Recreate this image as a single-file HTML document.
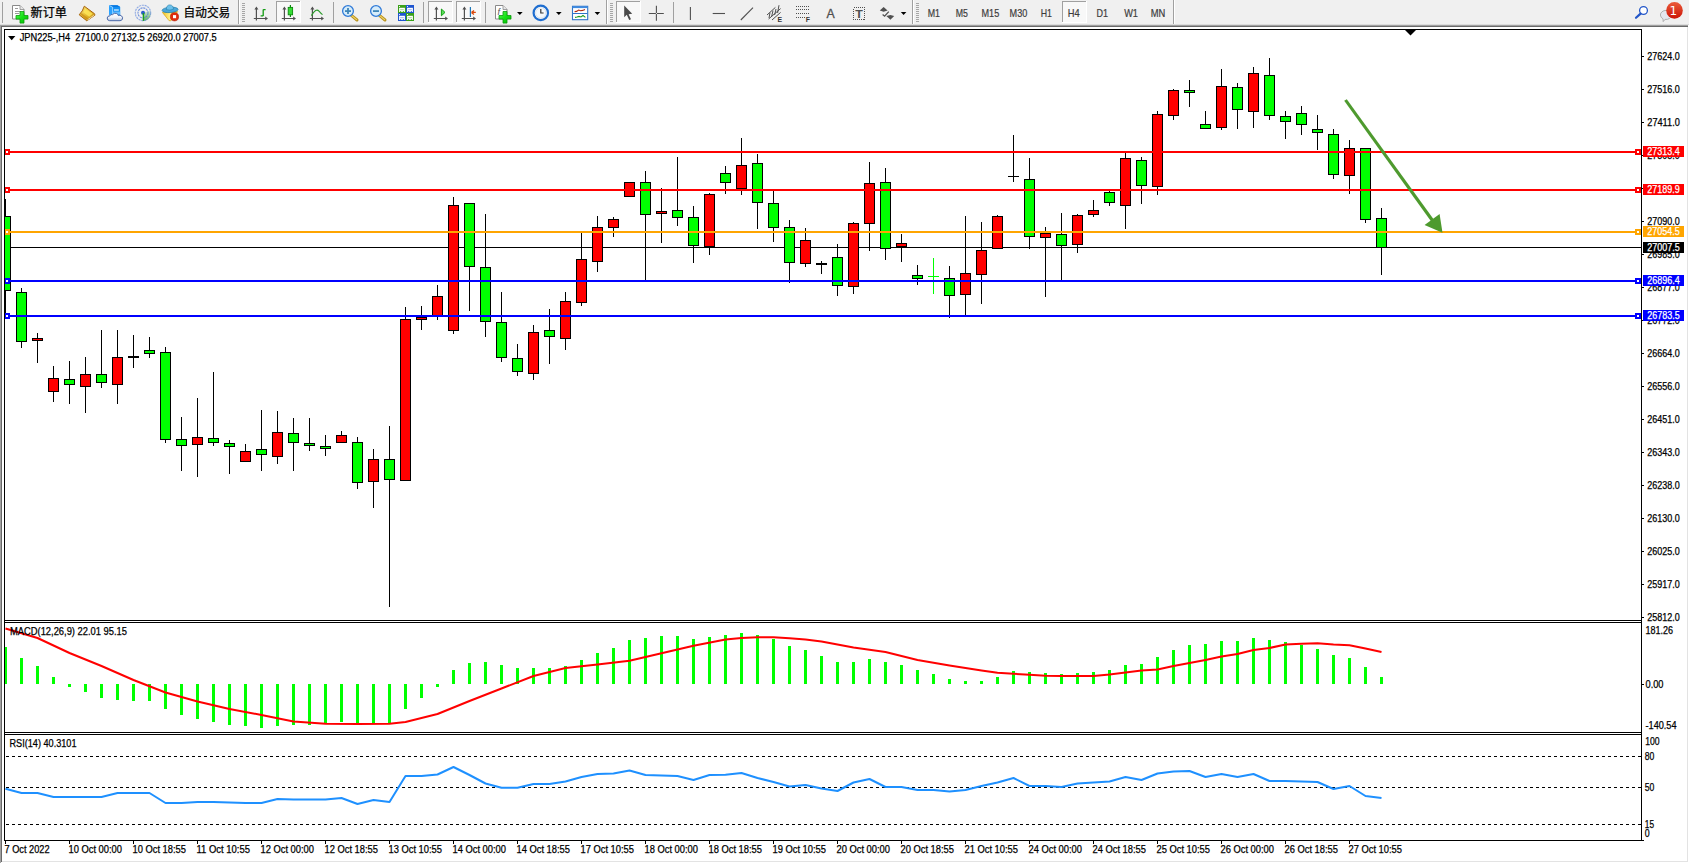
<!DOCTYPE html>
<html lang="zh"><head><meta charset="utf-8"><title>JPN225-,H4</title>
<style>html,body{margin:0;padding:0;background:#fff;overflow:hidden}svg{display:block}text{font-family:"Liberation Sans", sans-serif;white-space:pre}.cj{font-family:"Liberation Sans","Noto Sans CJK SC",sans-serif}</style></head><body>
<svg width="1689" height="863" viewBox="0 0 1689 863">
<rect x="0" y="0" width="1689" height="863" fill="#fff"/>
<defs><linearGradient id="pg" x1="0" y1="0" x2="1" y2="1"><stop offset="0" stop-color="#5cff5c"/><stop offset=".5" stop-color="#14e014"/><stop offset="1" stop-color="#08b808"/></linearGradient><linearGradient id="gg" x1="0" y1="0" x2="1" y2="1"><stop offset="0" stop-color="#f8e48a"/><stop offset=".5" stop-color="#e6bc30"/><stop offset="1" stop-color="#c08a14"/></linearGradient><linearGradient id="hg" x1="0" y1="0" x2="1" y2="0"><stop offset="0" stop-color="#f0c020"/><stop offset=".5" stop-color="#fff08a"/><stop offset="1" stop-color="#f0c020"/></linearGradient><linearGradient id="cg" x1="0" y1="0" x2="0" y2="1"><stop offset="0" stop-color="#ffffff"/><stop offset=".55" stop-color="#f0f3f9"/><stop offset="1" stop-color="#b8c4dc"/></linearGradient><linearGradient id="sg" x1="0" y1="0" x2="0" y2="1"><stop offset="0" stop-color="#cfe6cf"/><stop offset="1" stop-color="#2ca02c"/></linearGradient></defs>
<rect x="0" y="0" width="1689" height="25" fill="#f0f0f0"/>
<rect x="2" y="2" width="1" height="21" fill="#a0a0a0" shape-rendering="crispEdges"/>
<path d="M12.5 5.5 h7.5 l4 4 v9.5 h-11.5 Z" fill="#fff" stroke="#8a8a8a" stroke-width="1"/><path d="M20 5.5 v4 h4" fill="#e8e8e8" stroke="#8a8a8a" stroke-width="0.8"/>
<g stroke="#9a9a9a" stroke-width="1" shape-rendering="crispEdges"><path d="M14.5 8.5 h3 M14.5 11.5 h6 M14.5 13.5 h4"/></g>
<path d="M20 11.5 h4 v4 h4 v3.6 h-4 v4 h-4 v-4 h-4 v-3.6 h4 Z" fill="url(#pg)" stroke="#0c9a0c" stroke-width="0.8"/>
<text class="cj" x="30.6" y="16.6" font-size="12" textLength="36.4" lengthAdjust="spacingAndGlyphs" fill="#000" stroke="#000" stroke-width="0.25">新订单</text>
<path d="M84.3 6.2 L94.6 13.8 L94.9 15.2 L86.8 20.8 L79.2 14.8 Q82.8 11.2 84.3 6.2 Z" fill="url(#gg)" stroke="#a8640a" stroke-width="1"/><path d="M80.2 14.6 L86.9 19.8 L88.4 18.6 L81.6 13 Z" fill="#c98a14" opacity=".7"/><path d="M85.2 8.4 L92.6 13.8 L89.2 16.8 L83.2 12.2 Z" fill="#ffe95a" opacity=".8"/><path d="M87.4 20 L94.3 15.1" stroke="#f6ecc0" stroke-width="0.8"/>
<path d="M109 5.2 L117.4 5.2 L120.2 7 L120.2 16 L112.6 16 L109 14.4 Z" fill="#1590f4"/><path d="M109 5.2 L112.6 7 L112.6 16 L109 14.4 Z" fill="#2aa2ff"/><path d="M109 5.2 L117.4 5.2 L120.2 7 L112.6 7 Z" fill="#0a78e0"/><path d="M109.4 5.6 L112.6 7.2 V15" stroke="#c8e8ff" stroke-width="0.7" fill="none"/><rect x="114" y="9.4" width="4.8" height="1.2" fill="#e4f5ff"/><rect x="112.9" y="11.6" width="7.2" height="3" fill="#62bcff"/><path d="M109.6 20.7 Q107 20.4 107.2 18 Q107.4 15.8 110 15.8 Q110.6 14 112.6 14.6 Q114 12.6 116.4 13.4 Q118 14 118.4 15.6 Q120 14.6 121.4 15.8 Q123 17 122.4 19 Q121.8 20.7 120 20.7 Z" fill="url(#cg)" stroke="#4a68a8" stroke-width="1"/>
<path d="M143 13 L143 20.9 A7.9 7.9 0 0 0 150.5 10.4 Z" fill="url(#sg)" opacity=".75"/><g fill="none" stroke-width="1.1"><circle cx="143" cy="12.9" r="7.7" stroke="#6a8ede" opacity=".7" stroke-dasharray="2.2 0.7"/><circle cx="143" cy="12.9" r="5" stroke="#4a74d8" opacity=".75" stroke-dasharray="2.2 0.7"/></g><circle cx="143" cy="12.7" r="2" fill="#2a5ccc"/><rect x="142.7" y="13" width="1.4" height="7.8" fill="#18a018"/>
<path d="M162.4 12.4 L177.7 11.6 L170.8 20.8 L169 20.6 Z" fill="url(#hg)" stroke="#d8a010" stroke-width="0.7"/><ellipse cx="170.1" cy="9.9" rx="8" ry="2.7" transform="rotate(-4 170.1 9.9)" fill="#4aa6d8" stroke="#1f7caa" stroke-width="0.7"/><path d="M166.3 9.6 Q166.3 5 169.8 4.9 Q173.3 5 173.5 9.2 Q170 10.8 166.3 9.6 Z" fill="#6cc0ea" stroke="#1f7caa" stroke-width="0.6"/><circle cx="174.5" cy="16.8" r="4.1" fill="#e02c0c" stroke="#b41a04" stroke-width="0.6"/><rect x="173" y="15.1" width="3.1" height="3.1" fill="#fff"/>
<text class="cj" x="183.6" y="16.6" font-size="12" textLength="46.6" lengthAdjust="spacingAndGlyphs" fill="#000" stroke="#000" stroke-width="0.25">自动交易</text>
<rect x="238" y="0" width="1" height="25" fill="#a0a0a0" shape-rendering="crispEdges"/><rect x="239" y="0" width="1" height="25" fill="#fff" shape-rendering="crispEdges"/>
<g shape-rendering="crispEdges" fill="#a6a6a6"><rect x="242" y="3" width="3" height="1"/><rect x="242" y="5" width="3" height="1"/><rect x="242" y="7" width="3" height="1"/><rect x="242" y="9" width="3" height="1"/><rect x="242" y="11" width="3" height="1"/><rect x="242" y="13" width="3" height="1"/><rect x="242" y="15" width="3" height="1"/><rect x="242" y="17" width="3" height="1"/><rect x="242" y="19" width="3" height="1"/><rect x="242" y="21" width="3" height="1"/></g>
<g stroke="#505050" stroke-width="1.2" fill="none"><path d="M256.4 8 V20.6 M253.8 18.5 H266.5"/></g><path d="M256.4 6.6 L258.4 9.4 L254.4 9.4 Z M268 18.5 L265.2 16.5 L265.2 20.5 Z" fill="#505050"/>
<path d="M263.2 9.4 v6.6 M263.2 9.6 h2.4 M260.6 15.8 h2.6" stroke="#119a11" stroke-width="1.3" fill="none"/>
<g shape-rendering="crispEdges"><rect x="276" y="1" width="25" height="22" fill="#f8f8f8"/><rect x="276" y="1" width="25" height="1" fill="#a0a0a0"/><rect x="276" y="1" width="1" height="22" fill="#a0a0a0"/><rect x="276" y="22" width="25" height="1" fill="#fff"/><rect x="300" y="1" width="1" height="22" fill="#fff"/></g>
<g stroke="#505050" stroke-width="1.2" fill="none"><path d="M284.4 8 V20.6 M281.8 18.5 H294.5"/></g><path d="M284.4 6.6 L286.4 9.4 L282.4 9.4 Z M296 18.5 L293.2 16.5 L293.2 20.5 Z" fill="#505050"/>
<path d="M290.4 5 v12" stroke="#0c8a0c" stroke-width="1.2"/><rect x="288.2" y="7.4" width="4.4" height="7.4" fill="#35dd35" stroke="#0c8a0c" stroke-width="0.9"/>
<g stroke="#505050" stroke-width="1.2" fill="none"><path d="M312.4 8 V20.6 M309.8 18.5 H322.5"/></g><path d="M312.4 6.6 L314.4 9.4 L310.4 9.4 Z M324 18.5 L321.2 16.5 L321.2 20.5 Z" fill="#505050"/>
<path d="M311.4 15.6 Q316 7.6 319 11.2 T322.6 14" stroke="#2a9a2a" stroke-width="1.2" fill="none"/>
<rect x="333" y="2" width="1" height="21" fill="#a0a0a0" shape-rendering="crispEdges"/>
<path d="M351.4 15.4 L357 20" stroke="#b8921e" stroke-width="3" stroke-linecap="round"/><path d="M351.4 15.4 L356.6 19.6" stroke="#f0d468" stroke-width="1.2" stroke-linecap="round"/><circle cx="348" cy="11" r="5.4" fill="#d6ecfa" stroke="#2f7ad8" stroke-width="1.3"/>
<rect x="345" y="10.2" width="6" height="1.8" fill="#3f86b8"/>
<rect x="347.1" y="8" width="1.8" height="6" fill="#3f86b8"/>
<path d="M379.4 15.4 L385 20" stroke="#b8921e" stroke-width="3" stroke-linecap="round"/><path d="M379.4 15.4 L384.6 19.6" stroke="#f0d468" stroke-width="1.2" stroke-linecap="round"/><circle cx="376" cy="11" r="5.4" fill="#d6ecfa" stroke="#2f7ad8" stroke-width="1.3"/>
<rect x="373" y="10.2" width="6" height="1.8" fill="#3f86b8"/>
<rect x="398" y="5" width="8" height="8" fill="#3aa11a"/><rect x="399.1" y="7.8" width="5.8" height="4.2" fill="#fff"/><rect x="399" y="6" width="1" height="1" fill="#fff" opacity=".9"/><rect x="400.2" y="9.2" width="3.6" height="1" fill="#3aa11a" opacity=".45"/><rect x="400.2" y="11" width="1" height="1" fill="#3aa11a"/><rect x="402.8" y="11" width="1" height="1" fill="#3aa11a"/>
<rect x="406" y="5" width="8" height="8" fill="#1f55d0"/><rect x="407.1" y="7.8" width="5.8" height="4.2" fill="#fff"/><rect x="407" y="6" width="1" height="1" fill="#fff" opacity=".9"/><rect x="408.2" y="9.2" width="3.6" height="1" fill="#1f55d0" opacity=".45"/><rect x="408.2" y="11" width="1" height="1" fill="#1f55d0"/><rect x="410.8" y="11" width="1" height="1" fill="#1f55d0"/>
<rect x="398" y="13" width="8" height="8" fill="#1f55d0"/><rect x="399.1" y="15.8" width="5.8" height="4.2" fill="#fff"/><rect x="399" y="14" width="1" height="1" fill="#fff" opacity=".9"/><rect x="400.2" y="17.2" width="3.6" height="1" fill="#1f55d0" opacity=".45"/><rect x="400.2" y="19" width="1" height="1" fill="#1f55d0"/><rect x="402.8" y="19" width="1" height="1" fill="#1f55d0"/>
<rect x="406" y="13" width="8" height="8" fill="#3aa11a"/><rect x="407.1" y="15.8" width="5.8" height="4.2" fill="#fff"/><rect x="407" y="14" width="1" height="1" fill="#fff" opacity=".9"/><rect x="408.2" y="17.2" width="3.6" height="1" fill="#3aa11a" opacity=".45"/><rect x="408.2" y="19" width="1" height="1" fill="#3aa11a"/><rect x="410.8" y="19" width="1" height="1" fill="#3aa11a"/>
<rect x="423" y="2" width="1" height="21" fill="#a0a0a0" shape-rendering="crispEdges"/>
<g shape-rendering="crispEdges"><rect x="428" y="1" width="25" height="22" fill="#f8f8f8"/><rect x="428" y="1" width="25" height="1" fill="#a0a0a0"/><rect x="428" y="1" width="1" height="22" fill="#a0a0a0"/><rect x="428" y="22" width="25" height="1" fill="#fff"/><rect x="452" y="1" width="1" height="22" fill="#fff"/></g>
<g stroke="#505050" stroke-width="1.2" fill="none"><path d="M436.4 8 V20.6 M433.8 18.5 H446.5"/></g><path d="M436.4 6.6 L438.4 9.4 L434.4 9.4 Z M448 18.5 L445.2 16.5 L445.2 20.5 Z" fill="#505050"/>
<path d="M441.4 9 L445 12.4 L441.4 15.8 Z" fill="#5ae05a" stroke="#16a016" stroke-width="1"/>
<g shape-rendering="crispEdges"><rect x="456" y="1" width="25" height="22" fill="#f8f8f8"/><rect x="456" y="1" width="25" height="1" fill="#a0a0a0"/><rect x="456" y="1" width="1" height="22" fill="#a0a0a0"/><rect x="456" y="22" width="25" height="1" fill="#fff"/><rect x="480" y="1" width="1" height="22" fill="#fff"/></g>
<g stroke="#505050" stroke-width="1.2" fill="none"><path d="M464.4 8 V20.6 M461.8 18.5 H474.5"/></g><path d="M464.4 6.6 L466.4 9.4 L462.4 9.4 Z M476 18.5 L473.2 16.5 L473.2 20.5 Z" fill="#505050"/>
<rect x="469.8" y="7" width="1.2" height="10" fill="#1f78b8"/><path d="M471.6 12.4 L475.8 12.4 M471.4 12.4 L474 10.4 M471.4 12.4 L474 14.4" stroke="#d8480c" stroke-width="1.3" fill="none"/>
<rect x="485" y="2" width="1" height="21" fill="#a0a0a0" shape-rendering="crispEdges"/>
<path d="M495.5 5.5 h7.5 l4 4 v9.5 h-11.5 Z" fill="#fff" stroke="#8a8a8a" stroke-width="1"/><path d="M503 5.5 v4 h4" fill="#e8e8e8" stroke="#8a8a8a" stroke-width="0.8"/>
<text x="497.4" y="15" font-size="9" font-style="italic" fill="#555">f</text>
<path d="M503 11.5 h4 v4 h4 v3.6 h-4 v4 h-4 v-4 h-4 v-3.6 h4 Z" fill="url(#pg)" stroke="#0c9a0c" stroke-width="0.8"/>
<path d="M517 12 L522.6 12 L519.8 15 Z" fill="#000"/>
<circle cx="540.8" cy="12.9" r="7.2" fill="#fff" stroke="#1f6ed0" stroke-width="2.2"/><circle cx="540.8" cy="12.9" r="5.2" fill="#f4f8fc" stroke="#b8c8d8" stroke-width="0.5"/><path d="M540.8 9 V13 H543.6" stroke="#333" stroke-width="1.2" fill="none"/>
<path d="M556 12 L561.6 12 L558.8 15 Z" fill="#000"/>
<rect x="572.5" y="6.3" width="15.2" height="13.4" fill="#fff" stroke="#2f74c8" stroke-width="1.1"/><rect x="572.5" y="6.3" width="15.2" height="1.8" fill="#3f8be0"/><rect x="573" y="13" width="14.4" height="1" fill="#2f74c8"/><path d="M574.6 11.6 l2 -0.2 l2 -1.4 l2 0.8 l2 -0.4 l2.4 -1" stroke="#b02a10" stroke-width="1.1" fill="none"/><path d="M575 17.4 l2 -0.4 l2 -0.6 l2 0.6 l2 -1.6 l2.4 2" stroke="#1e9a1e" stroke-width="1.1" fill="none"/>
<path d="M594.6 12 L600.2 12 L597.4 15 Z" fill="#000"/>
<rect x="606" y="0" width="1" height="25" fill="#a0a0a0" shape-rendering="crispEdges"/><rect x="607" y="0" width="1" height="25" fill="#fff" shape-rendering="crispEdges"/>
<g shape-rendering="crispEdges" fill="#a6a6a6"><rect x="610" y="3" width="3" height="1"/><rect x="610" y="5" width="3" height="1"/><rect x="610" y="7" width="3" height="1"/><rect x="610" y="9" width="3" height="1"/><rect x="610" y="11" width="3" height="1"/><rect x="610" y="13" width="3" height="1"/><rect x="610" y="15" width="3" height="1"/><rect x="610" y="17" width="3" height="1"/><rect x="610" y="19" width="3" height="1"/><rect x="610" y="21" width="3" height="1"/></g>
<g shape-rendering="crispEdges"><rect x="616" y="1" width="25" height="22" fill="#f8f8f8"/><rect x="616" y="1" width="25" height="1" fill="#a0a0a0"/><rect x="616" y="1" width="1" height="22" fill="#a0a0a0"/><rect x="616" y="22" width="25" height="1" fill="#fff"/><rect x="640" y="1" width="1" height="22" fill="#fff"/></g>
<path d="M624.2 5.6 L624.2 17.2 L626.8 14.8 L629.2 20 L631 19.2 L628.6 14.2 L632.2 13.8 Z" fill="#4a4a4a"/>
<path d="M656.4 5.8 V20.8 M648.8 13.5 H663.8" stroke="#505050" stroke-width="1.1"/><rect x="655.9" y="13" width="1" height="1" fill="#f0f0f0"/>
<rect x="673" y="2" width="1" height="21" fill="#a0a0a0" shape-rendering="crispEdges"/>
<path d="M690.4 7 V20" stroke="#505050" stroke-width="1.1"/>
<path d="M712.7 13.5 H725" stroke="#505050" stroke-width="1.1"/>
<path d="M740.8 20 L753 7.7" stroke="#505050" stroke-width="1.1"/>
<g stroke="#505050" stroke-width="1" fill="none"><path d="M767 15 L775.4 7.4 M768.6 19 L780.6 8.6 M772 20 L780.6 12.4"/><path d="M770 12.6 l-1 5.4 M773 10.6 l-1.4 6 M776 9 l-1.4 6 M779 5.2 l-1.4 7.8"/></g>
<text x="777.4" y="22" font-size="6.5" font-weight="bold" fill="#333" textLength="4.6" lengthAdjust="spacingAndGlyphs">E</text>
<g stroke="#505050" stroke-width="1" stroke-dasharray="1 1" shape-rendering="crispEdges"><path d="M796 6.5 H809 M796 9.5 H809 M796 13.5 H809 M796 17.5 H805"/></g>
<text x="805.8" y="22" font-size="6.5" font-weight="bold" fill="#333" textLength="4.2" lengthAdjust="spacingAndGlyphs">F</text>
<text x="826.5" y="18" font-size="12" fill="#505050" stroke="#505050" stroke-width="0.3" textLength="8.2" lengthAdjust="spacingAndGlyphs">A</text>
<rect x="853.5" y="7.5" width="11" height="12" fill="none" stroke="#505050" stroke-width="1" stroke-dasharray="1 1" shape-rendering="crispEdges"/><text x="855.2" y="17.8" font-size="11" font-weight="bold" fill="#505050" textLength="7.6" lengthAdjust="spacingAndGlyphs">T</text>
<path d="M883.6 7 L887.6 10.6 L883.6 11.8 L879.8 10.6 Z" fill="#505050"/><path d="M890.4 19.8 L894.2 16 L890.4 15 L886.4 16 Z" fill="#505050"/><path d="M882.6 14.6 L884.6 16.2 L888.8 11.6" stroke="#505050" stroke-width="1.3" fill="none"/>
<path d="M900.8 12 L906.4 12 L903.5999999999999 15 Z" fill="#000"/>
<rect x="912" y="0" width="1" height="25" fill="#a0a0a0" shape-rendering="crispEdges"/><rect x="913" y="0" width="1" height="25" fill="#fff" shape-rendering="crispEdges"/>
<g shape-rendering="crispEdges" fill="#a6a6a6"><rect x="916" y="3" width="3" height="1"/><rect x="916" y="5" width="3" height="1"/><rect x="916" y="7" width="3" height="1"/><rect x="916" y="9" width="3" height="1"/><rect x="916" y="11" width="3" height="1"/><rect x="916" y="13" width="3" height="1"/><rect x="916" y="15" width="3" height="1"/><rect x="916" y="17" width="3" height="1"/><rect x="916" y="19" width="3" height="1"/><rect x="916" y="21" width="3" height="1"/></g>
<g shape-rendering="crispEdges"><rect x="1062" y="1" width="25" height="22" fill="#f8f8f8"/><rect x="1062" y="1" width="25" height="1" fill="#a0a0a0"/><rect x="1062" y="1" width="1" height="22" fill="#a0a0a0"/><rect x="1062" y="22" width="25" height="1" fill="#fff"/><rect x="1086" y="1" width="1" height="22" fill="#fff"/></g>
<text x="927.7" y="16.6" font-size="10.4" fill="#3c3c3c" stroke="#3c3c3c" stroke-width="0.2" textLength="12.3" lengthAdjust="spacingAndGlyphs">M1</text>
<text x="955.8" y="16.6" font-size="10.4" fill="#3c3c3c" stroke="#3c3c3c" stroke-width="0.2" textLength="12.2" lengthAdjust="spacingAndGlyphs">M5</text>
<text x="981.5" y="16.6" font-size="10.4" fill="#3c3c3c" stroke="#3c3c3c" stroke-width="0.2" textLength="17.7" lengthAdjust="spacingAndGlyphs">M15</text>
<text x="1009.6" y="16.6" font-size="10.4" fill="#3c3c3c" stroke="#3c3c3c" stroke-width="0.2" textLength="17.7" lengthAdjust="spacingAndGlyphs">M30</text>
<text x="1040.8" y="16.6" font-size="10.4" fill="#3c3c3c" stroke="#3c3c3c" stroke-width="0.2" textLength="11.2" lengthAdjust="spacingAndGlyphs">H1</text>
<text x="1067.7" y="16.6" font-size="10.4" fill="#3c3c3c" stroke="#3c3c3c" stroke-width="0.2" textLength="11.9" lengthAdjust="spacingAndGlyphs">H4</text>
<text x="1096.5" y="16.6" font-size="10.4" fill="#3c3c3c" stroke="#3c3c3c" stroke-width="0.2" textLength="11.5" lengthAdjust="spacingAndGlyphs">D1</text>
<text x="1124.2" y="16.6" font-size="10.4" fill="#3c3c3c" stroke="#3c3c3c" stroke-width="0.2" textLength="13.8" lengthAdjust="spacingAndGlyphs">W1</text>
<text x="1150.8" y="16.6" font-size="10.4" fill="#3c3c3c" stroke="#3c3c3c" stroke-width="0.2" textLength="14.6" lengthAdjust="spacingAndGlyphs">MN</text>
<rect x="1173" y="0" width="1" height="25" fill="#a0a0a0" shape-rendering="crispEdges"/><rect x="1174" y="0" width="1" height="25" fill="#fff" shape-rendering="crispEdges"/>
<circle cx="1643.5" cy="10.5" r="3.9" fill="#fff" stroke="#2356c8" stroke-width="1.3"/><path d="M1640.6 13.6 L1636 17.8" stroke="#2356c8" stroke-width="2.2" stroke-linecap="round"/>
<path d="M1660.4 15 a5.6 4.6 0 0 1 11.2 0 a5.6 4.6 0 0 1 -6.6 4.4 l-1.8 2.2 l-0.2 -2.8 a5 4.6 0 0 1 -2.6 -3.8 Z" fill="#e4e6ee" stroke="#a8a8a8" stroke-width="0.9"/>
<defs><linearGradient id="bg" x1="0" y1="0" x2="0" y2="1"><stop offset="0" stop-color="#ea5a3a"/><stop offset="1" stop-color="#cc1406"/></linearGradient></defs>
<circle cx="1674.5" cy="10.4" r="8.3" fill="url(#bg)"/>
<text x="1673.4" y="14.9" font-size="12" fill="#fff" text-anchor="middle" style="font-family:'DejaVu Sans',sans-serif">1</text>
<g shape-rendering="crispEdges">
<rect x="0" y="24" width="1689" height="1" fill="#dcdcdc"/>
<rect x="0" y="25" width="1689" height="1" fill="#a0a0a0"/>
<rect x="0" y="26" width="1688" height="1" fill="#696969"/>
<rect x="0" y="25" width="1" height="838" fill="#a0a0a0"/>
<rect x="1" y="26" width="1" height="836" fill="#696969"/>
<rect x="1687" y="27" width="1" height="835" fill="#e3e3e3"/>
<rect x="2" y="861" width="1686" height="1" fill="#e3e3e3"/>
<rect x="1688" y="25" width="1" height="838" fill="#fff"/>
<rect x="1" y="862" width="1688" height="1" fill="#fff"/>
</g>
<g shape-rendering="crispEdges">
<rect x="5" y="247" width="1636" height="1" fill="#000"/>
<clipPath id="cc"><rect x="5" y="30" width="1636" height="590"/></clipPath><g clip-path="url(#cc)">
<rect x="5" y="199" width="1" height="114" fill="#000"/>
<rect x="0.5" y="216.5" width="10" height="74" fill="#00ff00" stroke="#000" stroke-width="1"/>
<rect x="21" y="288" width="1" height="60" fill="#000"/>
<rect x="16.5" y="292.5" width="10" height="49" fill="#00ff00" stroke="#000" stroke-width="1"/>
<rect x="37" y="333" width="1" height="30" fill="#000"/>
<rect x="32.5" y="338.5" width="10" height="2" fill="#ff0000" stroke="#000" stroke-width="1"/>
<rect x="53" y="366" width="1" height="35.75" fill="#000"/>
<rect x="48.5" y="378.5" width="10" height="13" fill="#ff0000" stroke="#000" stroke-width="1"/>
<rect x="69" y="361" width="1" height="42.75" fill="#000"/>
<rect x="64.5" y="379.5" width="10" height="5" fill="#00ff00" stroke="#000" stroke-width="1"/>
<rect x="85" y="357" width="1" height="55.75" fill="#000"/>
<rect x="80.5" y="374.5" width="10" height="12" fill="#ff0000" stroke="#000" stroke-width="1"/>
<rect x="101" y="330" width="1" height="57.5" fill="#000"/>
<rect x="96.5" y="374.5" width="10" height="8" fill="#00ff00" stroke="#000" stroke-width="1"/>
<rect x="117" y="330" width="1" height="73.75" fill="#000"/>
<rect x="112.5" y="357.5" width="10" height="27" fill="#ff0000" stroke="#000" stroke-width="1"/>
<rect x="133" y="335" width="1" height="32.5" fill="#000"/>
<rect x="128" y="356" width="11" height="2" fill="#000"/>
<rect x="149" y="337" width="1" height="20.75" fill="#000"/>
<rect x="144.5" y="350.5" width="10" height="3" fill="#00ff00" stroke="#000" stroke-width="1"/>
<rect x="165" y="347" width="1" height="95.75" fill="#000"/>
<rect x="160.5" y="352.5" width="10" height="87" fill="#00ff00" stroke="#000" stroke-width="1"/>
<rect x="181" y="417" width="1" height="53.75" fill="#000"/>
<rect x="176.5" y="439.5" width="10" height="6" fill="#00ff00" stroke="#000" stroke-width="1"/>
<rect x="197" y="398" width="1" height="78.75" fill="#000"/>
<rect x="192.5" y="437.5" width="10" height="7" fill="#ff0000" stroke="#000" stroke-width="1"/>
<rect x="213" y="372" width="1" height="74" fill="#000"/>
<rect x="208.5" y="438.5" width="10" height="4" fill="#00ff00" stroke="#000" stroke-width="1"/>
<rect x="229" y="440" width="1" height="33.75" fill="#000"/>
<rect x="224.5" y="443.5" width="10" height="3" fill="#00ff00" stroke="#000" stroke-width="1"/>
<rect x="245" y="444" width="1" height="17.5" fill="#000"/>
<rect x="240.5" y="451.5" width="10" height="10" fill="#ff0000" stroke="#000" stroke-width="1"/>
<rect x="261" y="410" width="1" height="60.75" fill="#000"/>
<rect x="256.5" y="449.5" width="10" height="5" fill="#00ff00" stroke="#000" stroke-width="1"/>
<rect x="277" y="411" width="1" height="52.75" fill="#000"/>
<rect x="272.5" y="432.5" width="10" height="24" fill="#ff0000" stroke="#000" stroke-width="1"/>
<rect x="293" y="418" width="1" height="52.75" fill="#000"/>
<rect x="288.5" y="433.5" width="10" height="9" fill="#00ff00" stroke="#000" stroke-width="1"/>
<rect x="309" y="418" width="1" height="32.75" fill="#000"/>
<rect x="304.5" y="443.5" width="10" height="2" fill="#00ff00" stroke="#000" stroke-width="1"/>
<rect x="325" y="435" width="1" height="20.75" fill="#000"/>
<rect x="320.5" y="446.5" width="10" height="2" fill="#00ff00" stroke="#000" stroke-width="1"/>
<rect x="341" y="431" width="1" height="11.5" fill="#000"/>
<rect x="336.5" y="435.5" width="10" height="7" fill="#ff0000" stroke="#000" stroke-width="1"/>
<rect x="357" y="437" width="1" height="51.75" fill="#000"/>
<rect x="352.5" y="442.5" width="10" height="40" fill="#00ff00" stroke="#000" stroke-width="1"/>
<rect x="373" y="449" width="1" height="58.75" fill="#000"/>
<rect x="368.5" y="459.5" width="10" height="22" fill="#ff0000" stroke="#000" stroke-width="1"/>
<rect x="389" y="426" width="1" height="180.5" fill="#000"/>
<rect x="384.5" y="459.5" width="10" height="20" fill="#00ff00" stroke="#000" stroke-width="1"/>
<rect x="405" y="307" width="1" height="173.5" fill="#000"/>
<rect x="400.5" y="319.5" width="10" height="161" fill="#ff0000" stroke="#000" stroke-width="1"/>
<rect x="421" y="306" width="1" height="24" fill="#000"/>
<rect x="416.5" y="317.5" width="10" height="2" fill="#ff0000" stroke="#000" stroke-width="1"/>
<rect x="437" y="285" width="1" height="35" fill="#000"/>
<rect x="432.5" y="296.5" width="10" height="19" fill="#ff0000" stroke="#000" stroke-width="1"/>
<rect x="453" y="197" width="1" height="137" fill="#000"/>
<rect x="448.5" y="205.5" width="10" height="125" fill="#ff0000" stroke="#000" stroke-width="1"/>
<rect x="469" y="203.5" width="1" height="107.5" fill="#000"/>
<rect x="464.5" y="203.5" width="10" height="63" fill="#00ff00" stroke="#000" stroke-width="1"/>
<rect x="485" y="214" width="1" height="123" fill="#000"/>
<rect x="480.5" y="267.5" width="10" height="54" fill="#00ff00" stroke="#000" stroke-width="1"/>
<rect x="501" y="292" width="1" height="69.75" fill="#000"/>
<rect x="496.5" y="322.5" width="10" height="35" fill="#00ff00" stroke="#000" stroke-width="1"/>
<rect x="517" y="344" width="1" height="31.75" fill="#000"/>
<rect x="512.5" y="358.5" width="10" height="13" fill="#00ff00" stroke="#000" stroke-width="1"/>
<rect x="533" y="325" width="1" height="55" fill="#000"/>
<rect x="528.5" y="332.5" width="10" height="41" fill="#ff0000" stroke="#000" stroke-width="1"/>
<rect x="549" y="309" width="1" height="54.75" fill="#000"/>
<rect x="544.5" y="330.5" width="10" height="6" fill="#00ff00" stroke="#000" stroke-width="1"/>
<rect x="565" y="292" width="1" height="57.75" fill="#000"/>
<rect x="560.5" y="301.5" width="10" height="37" fill="#ff0000" stroke="#000" stroke-width="1"/>
<rect x="581" y="233" width="1" height="73" fill="#000"/>
<rect x="576.5" y="259.5" width="10" height="43" fill="#ff0000" stroke="#000" stroke-width="1"/>
<rect x="597" y="216" width="1" height="56" fill="#000"/>
<rect x="592.5" y="227.5" width="10" height="34" fill="#ff0000" stroke="#000" stroke-width="1"/>
<rect x="613" y="217" width="1" height="20" fill="#000"/>
<rect x="608.5" y="219.5" width="10" height="8" fill="#ff0000" stroke="#000" stroke-width="1"/>
<rect x="629" y="182.5" width="1" height="14" fill="#000"/>
<rect x="624.5" y="182.5" width="10" height="14" fill="#ff0000" stroke="#000" stroke-width="1"/>
<rect x="645" y="171" width="1" height="109" fill="#000"/>
<rect x="640.5" y="182.5" width="10" height="32" fill="#00ff00" stroke="#000" stroke-width="1"/>
<rect x="661" y="188" width="1" height="55" fill="#000"/>
<rect x="656.5" y="211.5" width="10" height="2" fill="#ff0000" stroke="#000" stroke-width="1"/>
<rect x="677" y="157" width="1" height="68.75" fill="#000"/>
<rect x="672.5" y="210.5" width="10" height="7" fill="#00ff00" stroke="#000" stroke-width="1"/>
<rect x="693" y="206" width="1" height="57" fill="#000"/>
<rect x="688.5" y="217.5" width="10" height="28" fill="#00ff00" stroke="#000" stroke-width="1"/>
<rect x="709" y="193" width="1" height="62" fill="#000"/>
<rect x="704.5" y="194.5" width="10" height="52" fill="#ff0000" stroke="#000" stroke-width="1"/>
<rect x="725" y="166" width="1" height="28" fill="#000"/>
<rect x="720.5" y="173.5" width="10" height="9" fill="#00ff00" stroke="#000" stroke-width="1"/>
<rect x="741" y="138" width="1" height="57" fill="#000"/>
<rect x="736.5" y="165.5" width="10" height="23" fill="#ff0000" stroke="#000" stroke-width="1"/>
<rect x="757" y="154" width="1" height="75" fill="#000"/>
<rect x="752.5" y="163.5" width="10" height="39" fill="#00ff00" stroke="#000" stroke-width="1"/>
<rect x="773" y="191" width="1" height="51" fill="#000"/>
<rect x="768.5" y="203.5" width="10" height="24" fill="#00ff00" stroke="#000" stroke-width="1"/>
<rect x="789" y="220" width="1" height="63" fill="#000"/>
<rect x="784.5" y="227.5" width="10" height="35" fill="#00ff00" stroke="#000" stroke-width="1"/>
<rect x="805" y="228" width="1" height="39" fill="#000"/>
<rect x="800.5" y="240.5" width="10" height="23" fill="#ff0000" stroke="#000" stroke-width="1"/>
<rect x="821" y="261" width="1" height="12.75" fill="#000"/>
<rect x="816" y="263" width="11" height="2" fill="#000"/>
<rect x="837" y="244" width="1" height="52" fill="#000"/>
<rect x="832.5" y="257.5" width="10" height="28" fill="#00ff00" stroke="#000" stroke-width="1"/>
<rect x="853" y="222" width="1" height="72" fill="#000"/>
<rect x="848.5" y="223.5" width="10" height="63" fill="#ff0000" stroke="#000" stroke-width="1"/>
<rect x="869" y="162" width="1" height="88.75" fill="#000"/>
<rect x="864.5" y="183.5" width="10" height="40" fill="#ff0000" stroke="#000" stroke-width="1"/>
<rect x="885" y="168" width="1" height="92" fill="#000"/>
<rect x="880.5" y="182.5" width="10" height="66" fill="#00ff00" stroke="#000" stroke-width="1"/>
<rect x="901" y="234" width="1" height="28" fill="#000"/>
<rect x="896.5" y="243.5" width="10" height="3" fill="#ff0000" stroke="#000" stroke-width="1"/>
<rect x="917" y="265" width="1" height="20" fill="#000"/>
<rect x="912.5" y="275.5" width="10" height="3" fill="#00ff00" stroke="#000" stroke-width="1"/>
<rect x="933" y="258" width="1" height="36" fill="#00ff00"/>
<rect x="928" y="276" width="11" height="1" fill="#00ff00"/>
<rect x="949" y="266" width="1" height="52" fill="#000"/>
<rect x="944.5" y="278.5" width="10" height="17" fill="#00ff00" stroke="#000" stroke-width="1"/>
<rect x="965" y="216" width="1" height="99" fill="#000"/>
<rect x="960.5" y="273.5" width="10" height="21" fill="#ff0000" stroke="#000" stroke-width="1"/>
<rect x="981" y="222" width="1" height="82" fill="#000"/>
<rect x="976.5" y="250.5" width="10" height="24" fill="#ff0000" stroke="#000" stroke-width="1"/>
<rect x="997" y="215" width="1" height="33.5" fill="#000"/>
<rect x="992.5" y="216.5" width="10" height="32" fill="#ff0000" stroke="#000" stroke-width="1"/>
<rect x="1013" y="135" width="1" height="46.75" fill="#000"/>
<rect x="1008" y="176" width="11" height="1" fill="#000"/>
<rect x="1029" y="158" width="1" height="91" fill="#000"/>
<rect x="1024.5" y="179.5" width="10" height="57" fill="#00ff00" stroke="#000" stroke-width="1"/>
<rect x="1045" y="227" width="1" height="70" fill="#000"/>
<rect x="1040.5" y="233.5" width="10" height="4" fill="#ff0000" stroke="#000" stroke-width="1"/>
<rect x="1061" y="213" width="1" height="67" fill="#000"/>
<rect x="1056.5" y="234.5" width="10" height="11" fill="#00ff00" stroke="#000" stroke-width="1"/>
<rect x="1077" y="213.5" width="1" height="39.5" fill="#000"/>
<rect x="1072.5" y="215.5" width="10" height="29" fill="#ff0000" stroke="#000" stroke-width="1"/>
<rect x="1093" y="200" width="1" height="16.75" fill="#000"/>
<rect x="1088.5" y="210.5" width="10" height="4" fill="#ff0000" stroke="#000" stroke-width="1"/>
<rect x="1109" y="191" width="1" height="14.75" fill="#000"/>
<rect x="1104.5" y="192.5" width="10" height="10" fill="#00ff00" stroke="#000" stroke-width="1"/>
<rect x="1125" y="153" width="1" height="75.75" fill="#000"/>
<rect x="1120.5" y="158.5" width="10" height="47" fill="#ff0000" stroke="#000" stroke-width="1"/>
<rect x="1141" y="157" width="1" height="46.75" fill="#000"/>
<rect x="1136.5" y="160.5" width="10" height="25" fill="#00ff00" stroke="#000" stroke-width="1"/>
<rect x="1157" y="111" width="1" height="83.75" fill="#000"/>
<rect x="1152.5" y="114.5" width="10" height="72" fill="#ff0000" stroke="#000" stroke-width="1"/>
<rect x="1173" y="89" width="1" height="31" fill="#000"/>
<rect x="1168.5" y="90.5" width="10" height="25" fill="#ff0000" stroke="#000" stroke-width="1"/>
<rect x="1189" y="80" width="1" height="26.75" fill="#000"/>
<rect x="1184.5" y="90.5" width="10" height="2" fill="#00ff00" stroke="#000" stroke-width="1"/>
<rect x="1205" y="111" width="1" height="17.5" fill="#000"/>
<rect x="1200.5" y="124.5" width="10" height="4" fill="#00ff00" stroke="#000" stroke-width="1"/>
<rect x="1221" y="69" width="1" height="61" fill="#000"/>
<rect x="1216.5" y="86.5" width="10" height="41" fill="#ff0000" stroke="#000" stroke-width="1"/>
<rect x="1237" y="83" width="1" height="45.75" fill="#000"/>
<rect x="1232.5" y="87.5" width="10" height="22" fill="#00ff00" stroke="#000" stroke-width="1"/>
<rect x="1253" y="67" width="1" height="60.75" fill="#000"/>
<rect x="1248.5" y="73.5" width="10" height="38" fill="#ff0000" stroke="#000" stroke-width="1"/>
<rect x="1269" y="58" width="1" height="62" fill="#000"/>
<rect x="1264.5" y="75.5" width="10" height="40" fill="#00ff00" stroke="#000" stroke-width="1"/>
<rect x="1285" y="111" width="1" height="27.75" fill="#000"/>
<rect x="1280.5" y="116.5" width="10" height="5" fill="#00ff00" stroke="#000" stroke-width="1"/>
<rect x="1301" y="106" width="1" height="28.75" fill="#000"/>
<rect x="1296.5" y="113.5" width="10" height="11" fill="#00ff00" stroke="#000" stroke-width="1"/>
<rect x="1317" y="115" width="1" height="34.75" fill="#000"/>
<rect x="1312.5" y="129.5" width="10" height="3" fill="#00ff00" stroke="#000" stroke-width="1"/>
<rect x="1333" y="129" width="1" height="50" fill="#000"/>
<rect x="1328.5" y="134.5" width="10" height="40" fill="#00ff00" stroke="#000" stroke-width="1"/>
<rect x="1349" y="140" width="1" height="54" fill="#000"/>
<rect x="1344.5" y="148.5" width="10" height="27" fill="#ff0000" stroke="#000" stroke-width="1"/>
<rect x="1365" y="148.5" width="1" height="74.25" fill="#000"/>
<rect x="1360.5" y="148.5" width="10" height="71" fill="#00ff00" stroke="#000" stroke-width="1"/>
<rect x="1381" y="208" width="1" height="67" fill="#000"/>
<rect x="1376.5" y="218.5" width="10" height="29" fill="#00ff00" stroke="#000" stroke-width="1"/>
</g>
<rect x="4" y="151" width="1638" height="2" fill="#ff0000"/>
<rect x="4" y="149" width="6" height="6" fill="#ff0000"/>
<rect x="6" y="151" width="2" height="2" fill="#fff"/>
<rect x="1635" y="149" width="6" height="6" fill="#ff0000"/>
<rect x="1637" y="151" width="2" height="2" fill="#fff"/>
<rect x="4" y="189" width="1638" height="2" fill="#ff0000"/>
<rect x="4" y="187" width="6" height="6" fill="#ff0000"/>
<rect x="6" y="189" width="2" height="2" fill="#fff"/>
<rect x="1635" y="187" width="6" height="6" fill="#ff0000"/>
<rect x="1637" y="189" width="2" height="2" fill="#fff"/>
<rect x="4" y="231" width="1638" height="2" fill="#ffa500"/>
<rect x="4" y="229" width="6" height="6" fill="#ffa500"/>
<rect x="6" y="231" width="2" height="2" fill="#fff"/>
<rect x="1635" y="229" width="6" height="6" fill="#ffa500"/>
<rect x="1637" y="231" width="2" height="2" fill="#fff"/>
<rect x="4" y="280" width="1638" height="2" fill="#0000ff"/>
<rect x="4" y="278" width="6" height="6" fill="#0000ff"/>
<rect x="6" y="280" width="2" height="2" fill="#fff"/>
<rect x="1635" y="278" width="6" height="6" fill="#0000ff"/>
<rect x="1637" y="280" width="2" height="2" fill="#fff"/>
<rect x="4" y="315" width="1638" height="2" fill="#0000ff"/>
<rect x="4" y="313" width="6" height="6" fill="#0000ff"/>
<rect x="6" y="315" width="2" height="2" fill="#fff"/>
<rect x="1635" y="313" width="6" height="6" fill="#0000ff"/>
<rect x="1637" y="315" width="2" height="2" fill="#fff"/>
</g>
<g fill="#4e9a2e" stroke="none">
<path d="M1344.2 100.8 L1346.8 99.2 L1433.6 219.3 L1431 221.2 Z"/>
<path d="M1442.5 232.8 L1424.6 225.0 L1439.6 214.0 Z"/>
</g>
<g shape-rendering="crispEdges" fill="#000">
<rect x="4" y="29" width="1638" height="1"/>
<rect x="4" y="29" width="1" height="812"/>
<rect x="1641" y="29" width="1" height="812"/>
<rect x="4" y="840" width="1640" height="1"/>
<rect x="4" y="620" width="1638" height="1"/>
<rect x="4" y="622" width="1638" height="1"/>
<rect x="4" y="732" width="1638" height="1"/>
<rect x="4" y="734" width="1638" height="1"/>
<rect x="5" y="621" width="1636" height="1" fill="#fff"/>
<rect x="5" y="733" width="1636" height="1" fill="#fff"/>
</g>
<path d="M1405 30 L1416 30 L1410.5 35.5 Z" fill="#000"/>
<path d="M8 36 L15.4 36 L11.7 40.2 Z" fill="#000"/>
<g shape-rendering="crispEdges" fill="#000">
<rect x="1642" y="56" width="2" height="1"/>
<rect x="1642" y="89" width="2" height="1"/>
<rect x="1642" y="122" width="2" height="1"/>
<rect x="1642" y="155" width="2" height="1"/>
<rect x="1642" y="188" width="2" height="1"/>
<rect x="1642" y="221" width="2" height="1"/>
<rect x="1642" y="254" width="2" height="1"/>
<rect x="1642" y="287" width="2" height="1"/>
<rect x="1642" y="320" width="2" height="1"/>
<rect x="1642" y="353" width="2" height="1"/>
<rect x="1642" y="386" width="2" height="1"/>
<rect x="1642" y="419" width="2" height="1"/>
<rect x="1642" y="452" width="2" height="1"/>
<rect x="1642" y="485" width="2" height="1"/>
<rect x="1642" y="518" width="2" height="1"/>
<rect x="1642" y="551" width="2" height="1"/>
<rect x="1642" y="584" width="2" height="1"/>
<rect x="1642" y="617" width="2" height="1"/>
<rect x="1642" y="684" width="2" height="1"/>
</g>
<text x="1647.3" y="60" font-size="10" fill="#000" stroke="#000" stroke-width="0.25" textLength="32.5" lengthAdjust="spacingAndGlyphs">27624.0</text>
<text x="1647.3" y="93" font-size="10" fill="#000" stroke="#000" stroke-width="0.25" textLength="32.5" lengthAdjust="spacingAndGlyphs">27516.0</text>
<text x="1647.3" y="126" font-size="10" fill="#000" stroke="#000" stroke-width="0.25" textLength="32.5" lengthAdjust="spacingAndGlyphs">27411.0</text>
<text x="1647.3" y="159" font-size="10" fill="#000" stroke="#000" stroke-width="0.25" textLength="32.5" lengthAdjust="spacingAndGlyphs">27305.0</text>
<text x="1647.3" y="225" font-size="10" fill="#000" stroke="#000" stroke-width="0.25" textLength="32.5" lengthAdjust="spacingAndGlyphs">27090.0</text>
<text x="1647.3" y="258" font-size="10" fill="#000" stroke="#000" stroke-width="0.25" textLength="32.5" lengthAdjust="spacingAndGlyphs">26985.0</text>
<text x="1647.3" y="291" font-size="10" fill="#000" stroke="#000" stroke-width="0.25" textLength="32.5" lengthAdjust="spacingAndGlyphs">26877.0</text>
<text x="1647.3" y="324" font-size="10" fill="#000" stroke="#000" stroke-width="0.25" textLength="32.5" lengthAdjust="spacingAndGlyphs">26772.0</text>
<text x="1647.3" y="357" font-size="10" fill="#000" stroke="#000" stroke-width="0.25" textLength="32.5" lengthAdjust="spacingAndGlyphs">26664.0</text>
<text x="1647.3" y="390" font-size="10" fill="#000" stroke="#000" stroke-width="0.25" textLength="32.5" lengthAdjust="spacingAndGlyphs">26556.0</text>
<text x="1647.3" y="423" font-size="10" fill="#000" stroke="#000" stroke-width="0.25" textLength="32.5" lengthAdjust="spacingAndGlyphs">26451.0</text>
<text x="1647.3" y="456" font-size="10" fill="#000" stroke="#000" stroke-width="0.25" textLength="32.5" lengthAdjust="spacingAndGlyphs">26343.0</text>
<text x="1647.3" y="489" font-size="10" fill="#000" stroke="#000" stroke-width="0.25" textLength="32.5" lengthAdjust="spacingAndGlyphs">26238.0</text>
<text x="1647.3" y="522" font-size="10" fill="#000" stroke="#000" stroke-width="0.25" textLength="32.5" lengthAdjust="spacingAndGlyphs">26130.0</text>
<text x="1647.3" y="555" font-size="10" fill="#000" stroke="#000" stroke-width="0.25" textLength="32.5" lengthAdjust="spacingAndGlyphs">26025.0</text>
<text x="1647.3" y="588" font-size="10" fill="#000" stroke="#000" stroke-width="0.25" textLength="32.5" lengthAdjust="spacingAndGlyphs">25917.0</text>
<text x="1647.3" y="621" font-size="10" fill="#000" stroke="#000" stroke-width="0.25" textLength="32.5" lengthAdjust="spacingAndGlyphs">25812.0</text>
<g shape-rendering="crispEdges">
<rect x="1643" y="146" width="41" height="11" fill="#ff0000"/>
<rect x="1643" y="184" width="41" height="11" fill="#ff0000"/>
<rect x="1643" y="226" width="41" height="11" fill="#ffa500"/>
<rect x="1643" y="275" width="41" height="11" fill="#0000ff"/>
<rect x="1643" y="310" width="41" height="11" fill="#0000ff"/>
<rect x="1643" y="242" width="41" height="11" fill="#000"/>
</g>
<text x="1647.3" y="155" font-size="10" fill="#fff" stroke="#fff" stroke-width="0.25" textLength="32.5" lengthAdjust="spacingAndGlyphs">27313.4</text>
<text x="1647.3" y="193" font-size="10" fill="#fff" stroke="#fff" stroke-width="0.25" textLength="32.5" lengthAdjust="spacingAndGlyphs">27189.9</text>
<text x="1647.3" y="235" font-size="10" fill="#fff" stroke="#fff" stroke-width="0.25" textLength="32.5" lengthAdjust="spacingAndGlyphs">27054.5</text>
<text x="1647.3" y="284" font-size="10" fill="#fff" stroke="#fff" stroke-width="0.25" textLength="32.5" lengthAdjust="spacingAndGlyphs">26896.4</text>
<text x="1647.3" y="319" font-size="10" fill="#fff" stroke="#fff" stroke-width="0.25" textLength="32.5" lengthAdjust="spacingAndGlyphs">26783.5</text>
<text x="1647.3" y="251" font-size="10" fill="#fff" stroke="#fff" stroke-width="0.25" textLength="32.5" lengthAdjust="spacingAndGlyphs">27007.5</text>
<text x="19.7" y="41" font-size="10" fill="#000" stroke="#000" stroke-width="0.25" textLength="197" lengthAdjust="spacingAndGlyphs">JPN225-,H4  27100.0 27132.5 26920.0 27007.5</text>
<g shape-rendering="crispEdges" fill="#00ff00">
<rect x="5" y="647" width="2" height="37"/>
<rect x="20" y="658" width="3" height="26"/>
<rect x="36" y="666" width="3" height="18"/>
<rect x="52" y="677" width="3" height="7"/>
<rect x="68" y="684" width="3" height="2.5"/>
<rect x="84" y="684" width="3" height="8"/>
<rect x="100" y="684" width="3" height="14"/>
<rect x="116" y="684" width="3" height="16"/>
<rect x="132" y="684" width="3" height="17"/>
<rect x="148" y="684" width="3" height="17"/>
<rect x="164" y="684" width="3" height="25"/>
<rect x="180" y="684" width="3" height="31"/>
<rect x="196" y="684" width="3" height="35"/>
<rect x="212" y="684" width="3" height="38"/>
<rect x="228" y="684" width="3" height="41"/>
<rect x="244" y="684" width="3" height="42"/>
<rect x="260" y="684" width="3" height="44"/>
<rect x="276" y="684" width="3" height="42"/>
<rect x="292" y="684" width="3" height="41"/>
<rect x="308" y="684" width="3" height="41"/>
<rect x="324" y="684" width="3" height="40"/>
<rect x="340" y="684" width="3" height="38"/>
<rect x="356" y="684" width="3" height="39"/>
<rect x="372" y="684" width="3" height="40"/>
<rect x="388" y="684" width="3" height="40"/>
<rect x="404" y="684" width="3" height="25"/>
<rect x="420" y="684" width="3" height="14"/>
<rect x="436" y="684" width="3" height="2.5"/>
<rect x="452" y="670" width="3" height="14"/>
<rect x="468" y="663" width="3" height="21"/>
<rect x="484" y="662" width="3" height="22"/>
<rect x="500" y="665" width="3" height="19"/>
<rect x="516" y="668" width="3" height="16"/>
<rect x="532" y="668" width="3" height="16"/>
<rect x="548" y="668" width="3" height="16"/>
<rect x="564" y="666" width="3" height="18"/>
<rect x="580" y="660" width="3" height="24"/>
<rect x="596" y="653" width="3" height="31"/>
<rect x="612" y="648" width="3" height="36"/>
<rect x="628" y="640" width="3" height="44"/>
<rect x="644" y="638" width="3" height="46"/>
<rect x="660" y="636" width="3" height="48"/>
<rect x="676" y="636" width="3" height="48"/>
<rect x="692" y="639" width="3" height="45"/>
<rect x="708" y="637" width="3" height="47"/>
<rect x="724" y="635" width="3" height="49"/>
<rect x="740" y="633" width="3" height="51"/>
<rect x="756" y="635" width="3" height="49"/>
<rect x="772" y="639" width="3" height="45"/>
<rect x="788" y="646" width="3" height="38"/>
<rect x="804" y="650" width="3" height="34"/>
<rect x="820" y="656" width="3" height="28"/>
<rect x="836" y="662" width="3" height="22"/>
<rect x="852" y="662" width="3" height="22"/>
<rect x="868" y="659" width="3" height="25"/>
<rect x="884" y="662" width="3" height="22"/>
<rect x="900" y="665" width="3" height="19"/>
<rect x="916" y="670" width="3" height="14"/>
<rect x="932" y="674" width="3" height="10"/>
<rect x="948" y="679" width="3" height="5"/>
<rect x="964" y="681" width="3" height="3"/>
<rect x="980" y="681" width="3" height="3"/>
<rect x="996" y="677" width="3" height="7"/>
<rect x="1012" y="671" width="3" height="13"/>
<rect x="1028" y="672" width="3" height="12"/>
<rect x="1044" y="673" width="3" height="11"/>
<rect x="1060" y="674" width="3" height="10"/>
<rect x="1076" y="673" width="3" height="11"/>
<rect x="1092" y="672" width="3" height="12"/>
<rect x="1108" y="670" width="3" height="14"/>
<rect x="1124" y="665" width="3" height="19"/>
<rect x="1140" y="664" width="3" height="20"/>
<rect x="1156" y="657" width="3" height="27"/>
<rect x="1172" y="650" width="3" height="34"/>
<rect x="1188" y="645" width="3" height="39"/>
<rect x="1204" y="644" width="3" height="40"/>
<rect x="1220" y="641" width="3" height="43"/>
<rect x="1236" y="641" width="3" height="43"/>
<rect x="1252" y="638" width="3" height="46"/>
<rect x="1268" y="640" width="3" height="44"/>
<rect x="1284" y="642" width="3" height="42"/>
<rect x="1300" y="645" width="3" height="39"/>
<rect x="1316" y="649" width="3" height="35"/>
<rect x="1332" y="655" width="3" height="29"/>
<rect x="1348" y="658" width="3" height="26"/>
<rect x="1364" y="667" width="3" height="17"/>
<rect x="1380" y="677" width="3" height="7"/>
</g>
<polyline points="5.5,628.5 37.5,638 69.5,653 101.5,666 133.5,680 165.5,692.5 197.5,701.5 229.5,709 261.5,715 293.5,721.5 325.5,723.75 357.5,724 389.5,723.75 405.5,722 437.5,714 469.5,701 501.5,688.5 533.5,676 565.5,668 597.5,664.5 629.5,660.75 661.5,653.25 693.5,645.75 725.5,639.5 741.5,638 757.5,637.25 773.5,637.25 789.5,638.25 805.5,639.5 821.5,641.5 853.5,647.5 885.5,652 917.5,660 949.5,665.5 981.5,670.5 997.5,672.75 1013.5,673.75 1029.5,674.75 1045.5,675.75 1061.5,676 1093.5,676 1109.5,674.5 1125.5,672.5 1141.5,670.5 1157.5,669.5 1173.5,666 1189.5,663 1205.5,660 1221.5,656.5 1237.5,654 1253.5,650 1269.5,648 1285.5,644.5 1301.5,643.75 1317.5,643.25 1333.5,644.5 1349.5,645.25 1365.5,648.5 1381.5,652" fill="none" stroke="#ff0000" stroke-width="2" stroke-linejoin="round"/>
<text x="10" y="635" font-size="10" fill="#000" stroke="#000" stroke-width="0.25" textLength="117" lengthAdjust="spacingAndGlyphs">MACD(12,26,9) 22.01 95.15</text>
<text x="1645.5" y="633.5" font-size="10" fill="#000" stroke="#000" stroke-width="0.25" textLength="27.5" lengthAdjust="spacingAndGlyphs">181.26</text>
<text x="1645.5" y="688" font-size="10" fill="#000" stroke="#000" stroke-width="0.25" textLength="18" lengthAdjust="spacingAndGlyphs">0.00</text>
<text x="1645.5" y="729" font-size="10" fill="#000" stroke="#000" stroke-width="0.25" textLength="31" lengthAdjust="spacingAndGlyphs">-140.54</text>
<g shape-rendering="crispEdges">
<line x1="5" y1="756.5" x2="1641" y2="756.5" stroke="#000" stroke-width="1" stroke-dasharray="3 3" stroke-dashoffset="5"/>
<line x1="5" y1="787.5" x2="1641" y2="787.5" stroke="#000" stroke-width="1" stroke-dasharray="3 3" stroke-dashoffset="5"/>
<line x1="5" y1="824.5" x2="1641" y2="824.5" stroke="#000" stroke-width="1" stroke-dasharray="3 3" stroke-dashoffset="5"/>
</g>
<polyline points="5.5,788.75 21.5,793 37.5,793 53.5,797 69.5,797 85.5,797 101.5,797 117.5,793 133.5,793 149.5,793 165.5,803 181.5,803 197.5,802 213.5,802 229.5,802.5 245.5,803 261.5,803 277.5,799 293.5,799.5 309.5,799.5 325.5,799.5 341.5,798 357.5,804 373.5,800 389.5,802 405.5,776 421.5,776 437.5,774.5 453.5,767 469.5,775 485.5,783.5 501.5,787.75 517.5,787.75 533.5,784 549.5,784 565.5,781.5 581.5,777 597.5,774 613.5,773.5 629.5,770.5 645.5,775 661.5,775.5 677.5,776 693.5,780 709.5,775 725.5,774.75 741.5,773 757.5,778 773.5,782 789.5,786.5 805.5,785 821.5,788.5 837.5,791 853.5,782.5 869.5,779 885.5,787 901.5,787 917.5,790 933.5,790 949.5,791.5 965.5,790 981.5,786 997.5,782.5 1013.5,778 1029.5,786 1045.5,786 1061.5,787 1077.5,783.5 1093.5,782.5 1109.5,781.5 1125.5,777 1141.5,780 1157.5,773.5 1173.5,771.5 1189.5,771 1205.5,777 1221.5,774 1237.5,777 1253.5,774 1269.5,781 1285.5,781 1301.5,781.5 1317.5,782 1333.5,789 1349.5,786 1365.5,796 1381.5,798" fill="none" stroke="#1e90ff" stroke-width="2" stroke-linejoin="round"/>
<text x="9.5" y="747" font-size="10" fill="#000" stroke="#000" stroke-width="0.25" textLength="67" lengthAdjust="spacingAndGlyphs">RSI(14) 40.3101</text>
<text x="1645.2" y="745" font-size="10" fill="#000" stroke="#000" stroke-width="0.25" textLength="14.4" lengthAdjust="spacingAndGlyphs">100</text>
<text x="1644.8" y="760" font-size="10" fill="#000" stroke="#000" stroke-width="0.25" textLength="9.6" lengthAdjust="spacingAndGlyphs">80</text>
<text x="1644.8" y="791" font-size="10" fill="#000" stroke="#000" stroke-width="0.25" textLength="9.6" lengthAdjust="spacingAndGlyphs">50</text>
<text x="1644.8" y="828" font-size="10" fill="#000" stroke="#000" stroke-width="0.25" textLength="9.2" lengthAdjust="spacingAndGlyphs">15</text>
<text x="1644.8" y="837" font-size="10" fill="#000" stroke="#000" stroke-width="0.25" textLength="4.9" lengthAdjust="spacingAndGlyphs">0</text>
<g shape-rendering="crispEdges" fill="#000">
<rect x="5" y="841" width="1" height="3"/>
<rect x="69" y="841" width="1" height="3"/>
<rect x="133" y="841" width="1" height="3"/>
<rect x="197" y="841" width="1" height="3"/>
<rect x="261" y="841" width="1" height="3"/>
<rect x="325" y="841" width="1" height="3"/>
<rect x="389" y="841" width="1" height="3"/>
<rect x="453" y="841" width="1" height="3"/>
<rect x="517" y="841" width="1" height="3"/>
<rect x="581" y="841" width="1" height="3"/>
<rect x="645" y="841" width="1" height="3"/>
<rect x="709" y="841" width="1" height="3"/>
<rect x="773" y="841" width="1" height="3"/>
<rect x="837" y="841" width="1" height="3"/>
<rect x="901" y="841" width="1" height="3"/>
<rect x="965" y="841" width="1" height="3"/>
<rect x="1029" y="841" width="1" height="3"/>
<rect x="1093" y="841" width="1" height="3"/>
<rect x="1157" y="841" width="1" height="3"/>
<rect x="1221" y="841" width="1" height="3"/>
<rect x="1285" y="841" width="1" height="3"/>
<rect x="1349" y="841" width="1" height="3"/>
</g>
<text x="4.5" y="853" font-size="10" fill="#000" stroke="#000" stroke-width="0.25" textLength="45" lengthAdjust="spacingAndGlyphs">7 Oct 2022</text>
<text x="68.5" y="853" font-size="10" fill="#000" stroke="#000" stroke-width="0.25" textLength="53.5" lengthAdjust="spacingAndGlyphs">10 Oct 00:00</text>
<text x="132.5" y="853" font-size="10" fill="#000" stroke="#000" stroke-width="0.25" textLength="53.5" lengthAdjust="spacingAndGlyphs">10 Oct 18:55</text>
<text x="196.5" y="853" font-size="10" fill="#000" stroke="#000" stroke-width="0.25" textLength="53.5" lengthAdjust="spacingAndGlyphs">11 Oct 10:55</text>
<text x="260.5" y="853" font-size="10" fill="#000" stroke="#000" stroke-width="0.25" textLength="53.5" lengthAdjust="spacingAndGlyphs">12 Oct 00:00</text>
<text x="324.5" y="853" font-size="10" fill="#000" stroke="#000" stroke-width="0.25" textLength="53.5" lengthAdjust="spacingAndGlyphs">12 Oct 18:55</text>
<text x="388.5" y="853" font-size="10" fill="#000" stroke="#000" stroke-width="0.25" textLength="53.5" lengthAdjust="spacingAndGlyphs">13 Oct 10:55</text>
<text x="452.5" y="853" font-size="10" fill="#000" stroke="#000" stroke-width="0.25" textLength="53.5" lengthAdjust="spacingAndGlyphs">14 Oct 00:00</text>
<text x="516.5" y="853" font-size="10" fill="#000" stroke="#000" stroke-width="0.25" textLength="53.5" lengthAdjust="spacingAndGlyphs">14 Oct 18:55</text>
<text x="580.5" y="853" font-size="10" fill="#000" stroke="#000" stroke-width="0.25" textLength="53.5" lengthAdjust="spacingAndGlyphs">17 Oct 10:55</text>
<text x="644.5" y="853" font-size="10" fill="#000" stroke="#000" stroke-width="0.25" textLength="53.5" lengthAdjust="spacingAndGlyphs">18 Oct 00:00</text>
<text x="708.5" y="853" font-size="10" fill="#000" stroke="#000" stroke-width="0.25" textLength="53.5" lengthAdjust="spacingAndGlyphs">18 Oct 18:55</text>
<text x="772.5" y="853" font-size="10" fill="#000" stroke="#000" stroke-width="0.25" textLength="53.5" lengthAdjust="spacingAndGlyphs">19 Oct 10:55</text>
<text x="836.5" y="853" font-size="10" fill="#000" stroke="#000" stroke-width="0.25" textLength="53.5" lengthAdjust="spacingAndGlyphs">20 Oct 00:00</text>
<text x="900.5" y="853" font-size="10" fill="#000" stroke="#000" stroke-width="0.25" textLength="53.5" lengthAdjust="spacingAndGlyphs">20 Oct 18:55</text>
<text x="964.5" y="853" font-size="10" fill="#000" stroke="#000" stroke-width="0.25" textLength="53.5" lengthAdjust="spacingAndGlyphs">21 Oct 10:55</text>
<text x="1028.5" y="853" font-size="10" fill="#000" stroke="#000" stroke-width="0.25" textLength="53.5" lengthAdjust="spacingAndGlyphs">24 Oct 00:00</text>
<text x="1092.5" y="853" font-size="10" fill="#000" stroke="#000" stroke-width="0.25" textLength="53.5" lengthAdjust="spacingAndGlyphs">24 Oct 18:55</text>
<text x="1156.5" y="853" font-size="10" fill="#000" stroke="#000" stroke-width="0.25" textLength="53.5" lengthAdjust="spacingAndGlyphs">25 Oct 10:55</text>
<text x="1220.5" y="853" font-size="10" fill="#000" stroke="#000" stroke-width="0.25" textLength="53.5" lengthAdjust="spacingAndGlyphs">26 Oct 00:00</text>
<text x="1284.5" y="853" font-size="10" fill="#000" stroke="#000" stroke-width="0.25" textLength="53.5" lengthAdjust="spacingAndGlyphs">26 Oct 18:55</text>
<text x="1348.5" y="853" font-size="10" fill="#000" stroke="#000" stroke-width="0.25" textLength="53.5" lengthAdjust="spacingAndGlyphs">27 Oct 10:55</text>
</svg></body></html>
